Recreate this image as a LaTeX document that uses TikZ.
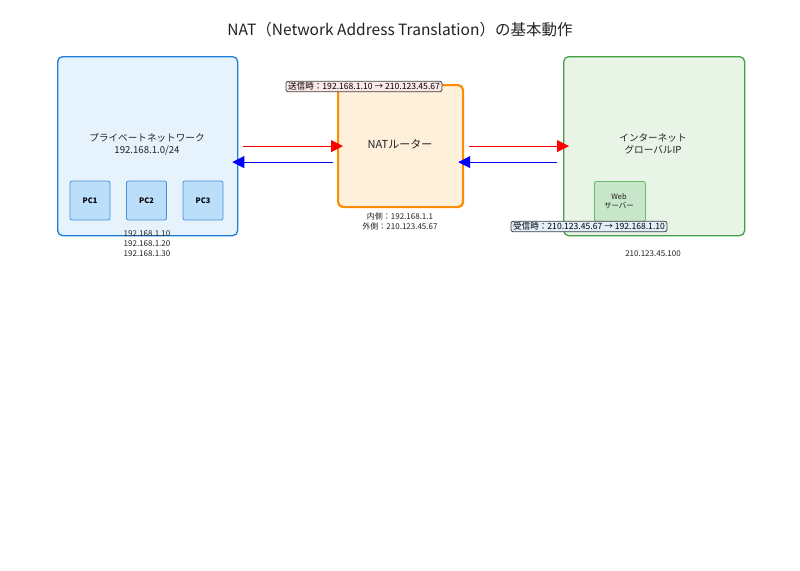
\documentclass[tikz,border=0pt]{standalone}
\usepackage{fontspec}
\setmainfont{Noto Sans CJK JP}
\usetikzlibrary{arrows.meta,calc}
\definecolor{lanfill}{HTML}{E6F2FC}
\definecolor{landraw}{HTML}{1E7FD8}
\definecolor{pcfill}{HTML}{BBDEFB}
\definecolor{pcdraw}{HTML}{4A90D9}
\definecolor{natfill}{HTML}{FFF0DC}
\definecolor{natdraw}{HTML}{FF8C00}
\definecolor{netfill}{HTML}{E8F4E6}
\definecolor{netdraw}{HTML}{43A047}
\definecolor{webfill}{HTML}{C8E6C9}
\definecolor{webdraw}{HTML}{66BB6A}
\definecolor{sendfill}{HTML}{FCE8E8}
\definecolor{recvfill}{HTML}{E3F0FB}
\definecolor{txt}{HTML}{222222}
\tikzset{
  area/.style={draw, rounded corners=5pt, line width=1.3pt, inner sep=0pt, anchor=north west},
  pcbox/.style={draw=pcdraw, fill=pcfill, rounded corners=2pt, line width=0.8pt, minimum width=40pt, minimum height=39pt, font=\fontsize{7.5}{8}\selectfont\bfseries, inner sep=0pt},
  lbl/.style={font=\fontsize{9.6}{12}\selectfont, text=txt, align=center},
  small/.style={font=\fontsize{8}{10}\selectfont, text=txt, align=center},
  tag/.style={draw=black!75, rounded corners=2pt, line width=0.8pt, font=\fontsize{8.6}{10}\selectfont, inner xsep=2pt, inner ysep=1.2pt},
  sendarrow/.style={draw=red, line width=0.8pt, -{Triangle[length=12pt,width=12pt]}, fill=red},
  recvarrow/.style={draw=blue, line width=0.8pt, -{Triangle[length=12pt,width=12pt]}, fill=blue}
}
\begin{document}
\begin{tikzpicture}[x=1pt,y=-1pt]
\useasboundingbox (0,0) rectangle (800,570);
\fill[white] (0,0) rectangle (800,570);
\node[font=\fontsize{15.5}{18}\selectfont, text=txt] (title) at (400,30) {NAT（Network Address Translation）の基本動作};

% LAN
\node[area, draw=landraw, fill=lanfill, minimum width=180pt, minimum height=179pt] (lan) at (57,56) {};
\node[lbl] (lantext) at (147,144) {プライベートネットワーク\\192.168.1.0/24};
\node[pcbox] (pc1) at (90,200.5) {PC1};
\node[pcbox] (pc2) at (146.5,200.5) {PC2};
\node[pcbox] (pc3) at (203,200.5) {PC3};
\node[small] (lanips) at (147,244) {192.168.1.10\\192.168.1.20\\192.168.1.30};

% NAT
\node[area, draw=natdraw, fill=natfill, line width=2.2pt, minimum width=125pt, minimum height=122pt] (nat) at (337,84) {};
\node[lbl, font=\fontsize{11}{13}\selectfont] (nattext) at (400,144) {NATルーター};
\node[small] (natips) at (400,221) {内側：192.168.1.1\\外側：210.123.45.67};

% Internet
\node[area, draw=netdraw, fill=netfill, minimum width=181pt, minimum height=179pt] (net) at (563,56) {};
\node[lbl] (nettext) at (653,144) {インターネット\\グローバルIP};
\node[draw=webdraw, fill=webfill, rounded corners=2pt, line width=0.8pt, minimum width=51pt, minimum height=40pt, anchor=north west, inner sep=0pt] (web) at (594,181) {};
\node[small, font=\fontsize{7.5}{9.5}\selectfont] (webtext) at (619,201) {Web\\サーバー};
\node[small] (netip) at (653,254) {210.123.45.100};

% tags
\node[tag, fill=sendfill] (sendtag) at (364,86.5) {送信時：192.168.1.10 → 210.123.45.67};
\node[tag, fill=recvfill] (recvtag) at (589,226.5) {受信時：210.123.45.67 → 192.168.1.10};

% arrows
\draw[sendarrow] ([xshift=5pt]lan.east |- nat.center) -- ([xshift=6pt]nat.west |- nat.center);
\draw[recvarrow] ([xshift=-4pt,yshift=-16pt]nat.west |- nat.center) -- ([xshift=-6pt,yshift=-16pt]lan.east |- nat.center);
\draw[sendarrow] ([xshift=5pt]nat.east |- nat.center) -- ([xshift=6pt]net.west |- nat.center);
\draw[recvarrow] ([xshift=-6pt,yshift=-16pt]net.west |- nat.center) -- ([xshift=-6pt,yshift=-16pt]nat.east |- nat.center);
\end{tikzpicture}
\end{document}
